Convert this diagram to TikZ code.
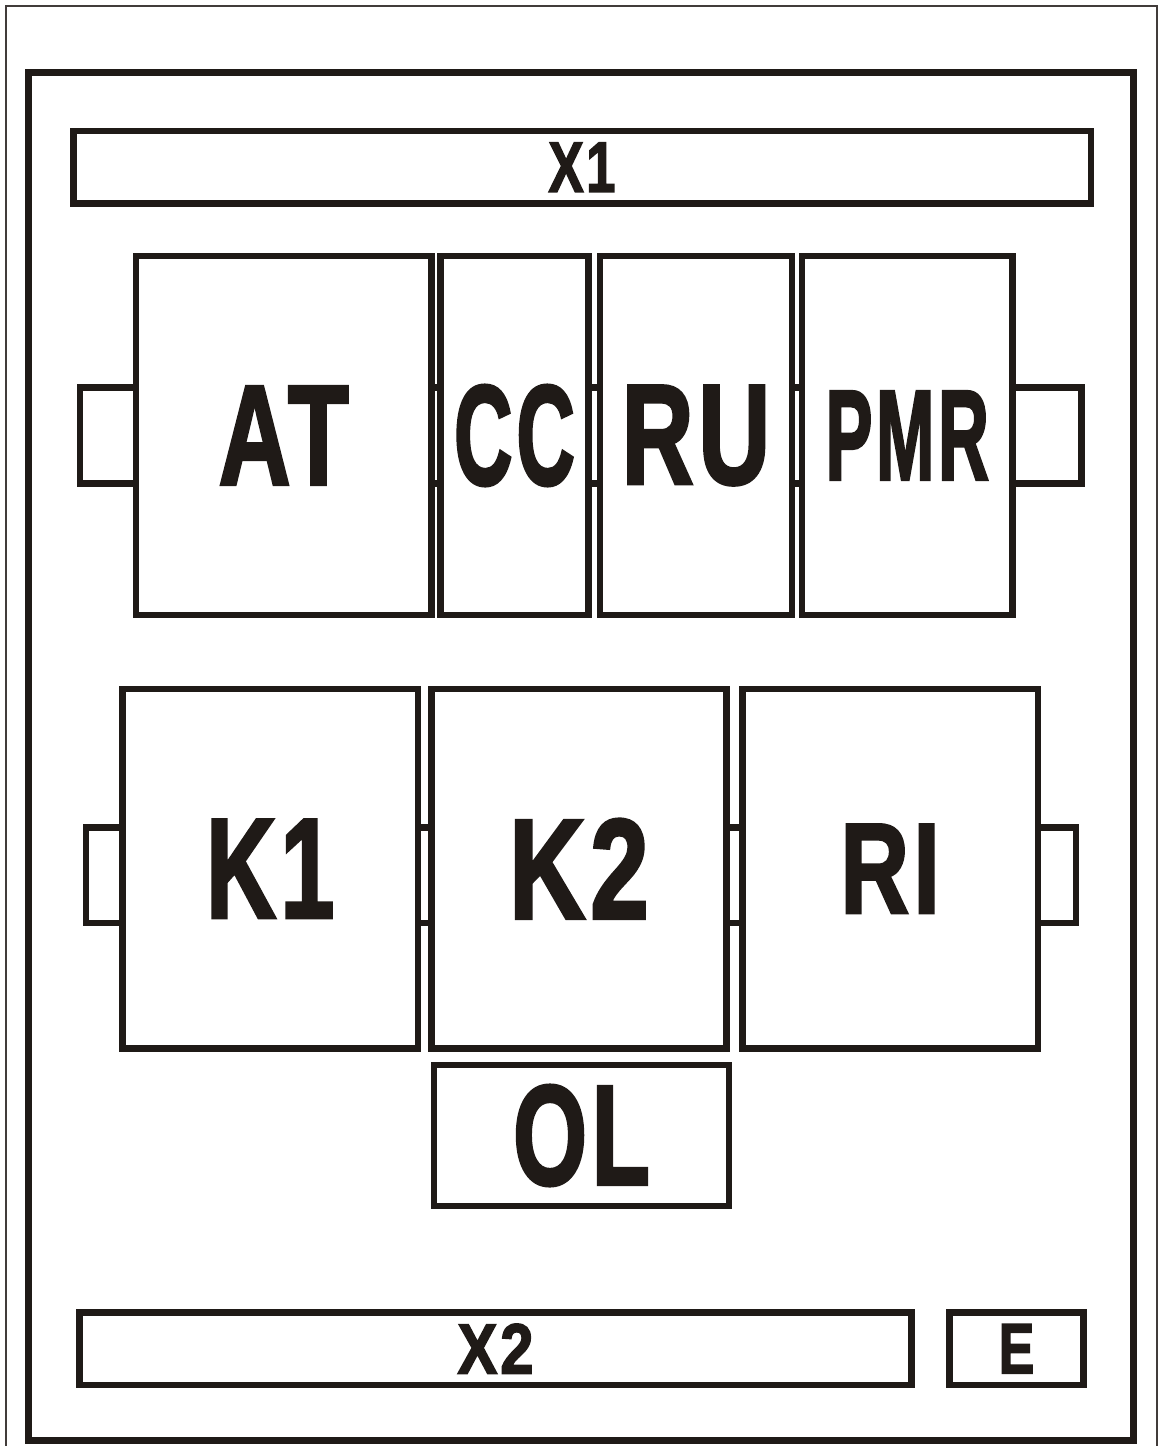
\documentclass[tikz,border=0pt]{standalone}
\usepackage{fontspec}
\setmainfont{Liberation Sans}
\newfontfamily\heavy[BoldFeatures={FakeBold=2.5, LetterSpace=5}]{Liberation Sans}
\usepackage{graphicx}
\usepackage{xcolor}
\usepackage{tikz}
\usetikzlibrary{positioning}
\definecolor{boxink}{HTML}{1F1A17}
\newcommand{\narrow}[2]{\scalebox{#1}[1]{#2}}

\begin{document}
\begin{tikzpicture}[x=1pt, y=-1pt,
    module/.style={draw=boxink, line width=6.5pt, inner sep=0pt, outer sep=0pt, text=boxink,
      minimum width=295.5pt, minimum height=359pt, font=\heavy\bfseries\fontsize{142}{142}\selectfont},
    strip/.style={draw=boxink, line width=6.5pt, inner sep=0pt, outer sep=0pt, text=boxink,
      minimum height=72.5pt, font=\heavy\bfseries\fontsize{71}{71}\selectfont},
    tab/.style={draw=boxink, line width=6.5pt, inner sep=0pt, outer sep=0pt, minimum height=96pt}]
  \useasboundingbox (0,0) rectangle (1160,1446);
  \draw[boxink!85, line width=1.5pt] (6,6) rectangle (1157,1447);
  \draw[boxink, line width=7pt] (28.5,72.5) rectangle (1133.5,1440);

  \node[strip, minimum width=1017.5pt] (x1) at (582,167.25) {\narrow{0.74}{X1}};

  \node[module] (at) at (283.75,435.5) {\narrow{0.7}{AT}};
  \node[module, minimum width=148pt, right=9pt of at] (cc) {\narrow{0.57}{CC}};
  \node[module, minimum width=192pt, right=11.5pt of cc] (ru) {\narrow{0.7}{RU}};
  \node[module, minimum width=210.5pt, right=10pt of ru, font=\heavy\bfseries\fontsize{128}{128}\selectfont] (pmr) {\narrow{0.55}{PMR}};
  \node[tab, minimum width=56pt, left=0pt of at] (at-tab) {};
  \node[tab, minimum width=9pt, right=0pt of at] (at-cc) {};
  \node[tab, minimum width=11.5pt, right=0pt of cc] (cc-ru) {};
  \node[tab, minimum width=10pt, right=0pt of ru] (ru-pmr) {};
  \node[tab, minimum width=69pt, right=0pt of pmr] (pmr-tab) {};

  \node[module, minimum height=359.5pt] (k1) at (270.25,868.75) {\narrow{0.68}{K1}};
  \node[module, minimum height=359.5pt, minimum width=295pt, right=13.5pt of k1] (k2) {\narrow{0.74}{K2}};
  \node[module, minimum height=359.5pt, right=16pt of k2, font=\heavy\bfseries\fontsize{128}{128}\selectfont] (ri) {\narrow{0.74}{RI}};
  \node[tab, minimum width=36.5pt, minimum height=95.5pt, left=0pt of k1, yshift=-6.5pt] (k1-tab) {};
  \node[tab, minimum width=13.5pt, minimum height=95.5pt, right=0pt of k1, yshift=-6.5pt] (k1-k2) {};
  \node[tab, minimum width=16pt, minimum height=95.5pt, right=0pt of k2, yshift=-6.5pt] (k2-ri) {};
  \node[tab, minimum width=38pt, minimum height=95.5pt, right=0pt of ri, yshift=-6.5pt] (ri-tab) {};

  \node[module, minimum width=295pt, minimum height=141pt, below=16.5pt of k2, xshift=2.5pt] (ol) {\narrow{0.67}{OL}};

  \node[strip, minimum width=832pt] (x2) at (495.5,1348.75) {\narrow{0.84}{X2}};
  \node[strip, minimum width=134pt, right=38pt of x2] (e) {\narrow{0.75}{E}};
\end{tikzpicture}
\end{document}
